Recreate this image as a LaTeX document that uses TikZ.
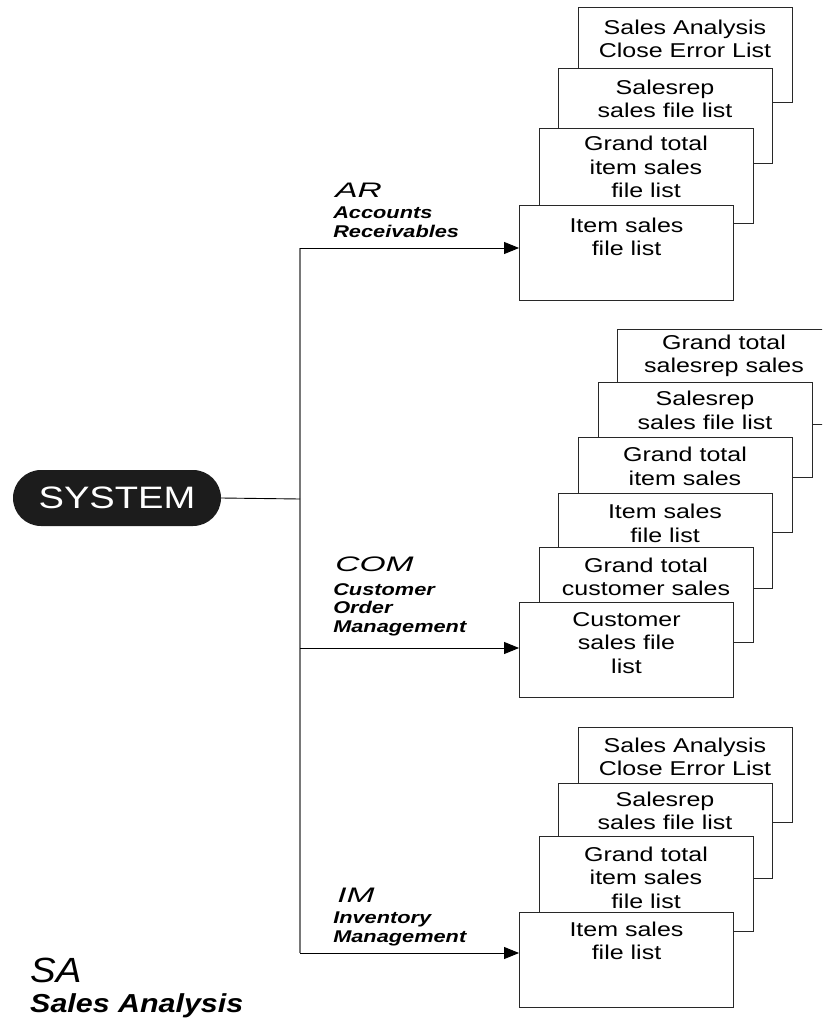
\documentclass[tikz,border=0pt]{standalone}
\usepackage{fontspec}
\setmainfont{Liberation Sans}
\usetikzlibrary{arrows.meta}
\definecolor{boxline}{RGB}{40,40,40}
\definecolor{busline}{RGB}{120,120,120}
\definecolor{sysfill}{RGB}{28,28,28}
\begin{document}
\begin{tikzpicture}[x=1pt,y=-1pt,
  filecard/.style={draw=boxline, line width=0.9pt, fill=white, minimum width=214pt, minimum height=95pt, inner sep=0pt},
  ftext/.style={font=\fontsize{20}{23.5}\selectfont, align=center, inner sep=0pt, xscale=1.25, anchor=north},
  abbr/.style={font=\fontsize{21}{24}\selectfont\itshape, inner sep=0pt, xscale=1.6, anchor=north west},
  subname/.style={font=\fontsize{17}{18.5}\selectfont\bfseries\itshape, align=left, inner sep=0pt, xscale=1.28, anchor=north west},
  conn/.style={draw=black, line width=0.9pt},
  arr/.style={conn, -{Triangle[length=15pt,width=12pt]}},
  busstyle/.style={draw=busline, line width=1.1pt}
]
\clip (0,0) rectangle (822,1024);
\useasboundingbox (0,0) rectangle (822,1024);

% SYSTEM node
\node[fill=sysfill, rounded corners=28pt, minimum width=208pt, minimum height=56pt, inner sep=0pt,
      text=white, font=\fontsize{31}{31}\selectfont] (sys) at (117,498) {\scalebox{1.23}[1]{SYSTEM}};

% AR stack
\node[filecard] (a1) at (685,54.5) {};
\node[ftext] (a1t) at ([yshift=-13pt]a1.north) {Sales Analysis\\Close Error List};
\node[filecard] (a2) at (665,115.5) {};
\node[ftext] (a2t) at ([yshift=-12pt]a2.north) {Salesrep\\sales file list};
\node[filecard] (a3) at (646,176) {};
\node[ftext] (a3t) at ([yshift=-8pt]a3.north) {Grand total\\item sales\\file list};
\node[filecard] (a4) at (626.5,252.5) {};
\node[ftext] (a4t) at ([yshift=-13pt]a4.north) {Item sales\\file list};

% COM stack
\node[filecard] (c1) at (724,376.5) {};
\node[ftext] (c1t) at ([yshift=-6pt]c1.north) {Grand total\\salesrep sales};
\node[filecard] (c2) at (705,430) {};
\node[ftext] (c2t) at ([yshift=-9pt]c2.north) {Salesrep\\sales file list};
\node[filecard] (c3) at (685,485) {};
\node[ftext] (c3t) at ([yshift=-10pt]c3.north) {Grand total\\item sales};
\node[filecard] (c4) at (665,541) {};
\node[ftext] (c4t) at ([yshift=-11pt]c4.north) {Item sales\\file list};
\node[filecard] (c5) at (646,594.5) {};
\node[ftext] (c5t) at ([yshift=-11pt]c5.north) {Grand total\\customer sales};
\node[filecard] (c6) at (626.5,650) {};
\node[ftext] (c6t) at ([yshift=-10pt]c6.north) {Customer\\sales file\\list};

% IM stack
\node[filecard] (i1) at (685,774.5) {};
\node[ftext] (i1t) at ([yshift=-11pt]i1.north) {Sales Analysis\\Close Error List};
\node[filecard] (i2) at (665,830.5) {};
\node[ftext] (i2t) at ([yshift=-9pt]i2.north) {Salesrep\\sales file list};
\node[filecard] (i3) at (646,883.5) {};
\node[ftext] (i3t) at ([yshift=-11pt]i3.north) {Grand total\\item sales\\file list};
\node[filecard] (i4) at (626.5,959.5) {};
\node[ftext] (i4t) at ([yshift=-10pt]i4.north) {Item sales\\file list};

% connectors
\coordinate (bus) at (300,499);
\coordinate (jAR) at (300,248);
\coordinate (jCOM) at (300,648);
\coordinate (jIM) at (300,953);
\draw[busstyle] (jAR) -- (jIM);
\draw[conn] (sys.east) -- (bus);
\draw[arr] (jAR) -- (jAR -| a4.west);
\draw[arr] (jCOM) -- (jCOM -| c6.west);
\draw[arr] (jIM) -- (jIM -| i4.west);

% labels
\node[abbr] (art) at (335,183) {AR};
\node[subname] (ars) at (333,207) {Accounts\\Receivables};
\node[abbr] (comt) at (335,557) {COM};
\node[subname] (coms) at (333,583) {Customer\\Order\\Management};
\node[abbr] (imt) at (337,888) {IM};
\node[subname] (ims) at (333,912) {Inventory\\Management};
\node[font=\fontsize{35}{38}\selectfont\itshape, inner sep=0pt, xscale=1.1, anchor=north west] (sat) at (30,958) {SA};
\node[font=\fontsize{26}{28}\selectfont\bfseries\itshape, inner sep=0pt, xscale=1.17, anchor=north west] (sas) at (30,993) {Sales Analysis};
\end{tikzpicture}
\end{document}
